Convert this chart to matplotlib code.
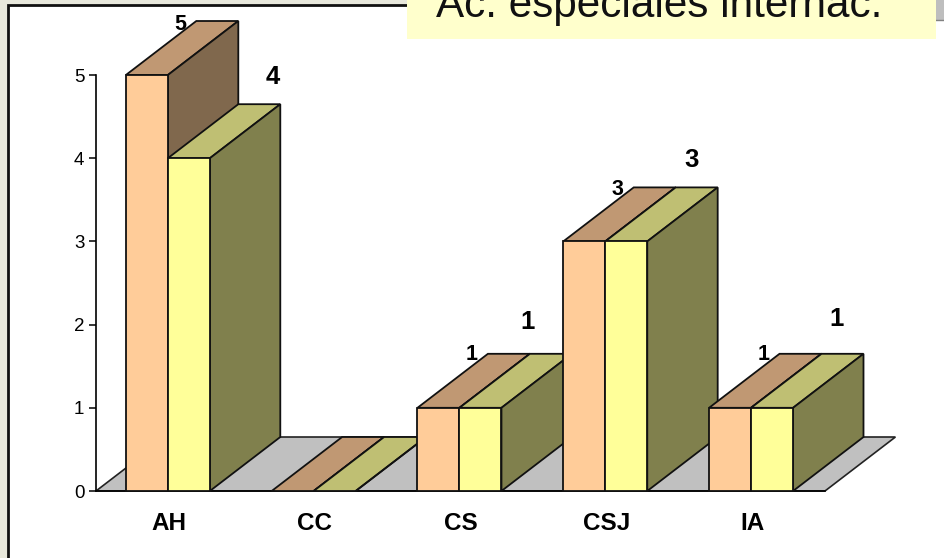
import matplotlib
matplotlib.use("Agg")
import matplotlib.pyplot as plt
from matplotlib.patches import Polygon, Rectangle

categories = ['AH', 'CC', 'CS', 'CSJ', 'IA']
serie_a = [5, 0, 1, 3, 1]
serie_b = [4, 0, 1, 3, 1]
labels_a = ['5', '', '1', '3', '1']
labels_b = ['4', '', '1', '3', '1']
y_ticks = [0, 1, 2, 3, 4, 5]
title_text = 'Ac. especiales internac.'

plt.rcParams['font.family'] = ['Liberation Sans', 'DejaVu Sans']

W, H = 944, 558
fig = plt.figure(figsize=(W / 100, H / 100), dpi=100, facecolor='#E8E8DC')

# white panel with the black frame
bg = fig.add_axes([0, 0, 1, 1])
bg.set_xlim(0, W)
bg.set_ylim(H, 0)
bg.axis('off')
bg.add_patch(Rectangle((8, 5), W, H, fc='white', ec='#111111', lw=2))
bg.add_patch(Rectangle((936, 0), 8, 20, fc='#BEBEBE', ec='none', zorder=3))
bg.plot([936, 944], [20, 20], color='#808080', lw=1, zorder=3)

ax = fig.add_axes([96 / W, (H - 491) / H, 729 / W, 416 / H])
ax.set_xlim(0, 5)
ax.set_ylim(0, 5)
ax.patch.set_visible(False)

# depth of the fake 3d, in data units
dx = 0.483
dy = 0.649
bar_w = 0.288
start = 0.205

# the labels do not sit at a regular place in the original
big_x = [1.212, 0, 0.959, 1.082, 1.082]
big_up = [0.325, 0, 0.385, 0.325, 0.42]
small_down = [0.04, 0, 0.01, 0.025, 0.01]


def box(x, w, h, front, top, side, z):
    ec = '#111111'
    lw = 1.3
    ax.add_patch(Polygon([(x, h), (x + dx, h + dy), (x + w + dx, h + dy), (x + w, h)],
                         fc=top, ec=ec, lw=lw, zorder=z, clip_on=False))
    ax.add_patch(Polygon([(x + w, 0), (x + w + dx, dy), (x + w + dx, h + dy), (x + w, h)],
                         fc=side, ec=ec, lw=lw, zorder=z, clip_on=False))
    if h > 0:
        ax.add_patch(Rectangle((x, 0), w, h, fc=front, ec=ec, lw=lw, zorder=z + 0.1, clip_on=False))


# floor
ax.add_patch(Polygon([(0, 0), (dx, dy), (5 + dx, dy), (5, 0)], fc='#C0C0C0', ec='#222222',
                     lw=1.2, zorder=1, clip_on=False))

for i in range(len(categories)):
    z = 2 + i * 2
    x = i + start
    box(x, bar_w, serie_a[i], '#FFCC99', '#C09873', '#80684D', z)
    box(x + bar_w, bar_w, serie_b[i], '#FFFF99', '#BFBF73', '#80804D', z + 1)
    ax.text(i + 0.578, serie_a[i] + dy - small_down[i], labels_a[i], fontsize=15.5, fontweight='bold',
            ha='center', va='center', zorder=30, clip_on=False)
    ax.text(i + big_x[i], serie_b[i] + dy + big_up[i], labels_b[i], fontsize=18.5, fontweight='bold',
            ha='center', va='center', zorder=30, clip_on=False)

for s in ['top', 'right']:
    ax.spines[s].set_visible(False)
ax.spines['left'].set_linewidth(1.2)
ax.spines['bottom'].set_linewidth(1.2)
ax.spines['left'].set_zorder(1.5)
ax.spines['bottom'].set_zorder(1.5)
ax.set_yticks(y_ticks)
ax.tick_params(axis='y', length=4.8, width=1.1, labelsize=13.5, pad=3.5)
ax.set_xticks([i + 0.5 for i in range(len(categories))])
ax.set_xticklabels(categories, fontsize=17.5, fontweight='bold')
ax.tick_params(axis='x', length=0, pad=15)

# title box, cut off by the top edge
bg.add_patch(Rectangle((407, -2), 529, 40.5, fc='#FFFFCC', ec='none', zorder=4))
bg.text(659, 17, title_text, fontsize=30.4, ha='center', va='baseline', color='#111111', zorder=5,
        clip_on=True)

fig.savefig('out.png', dpi=100)
